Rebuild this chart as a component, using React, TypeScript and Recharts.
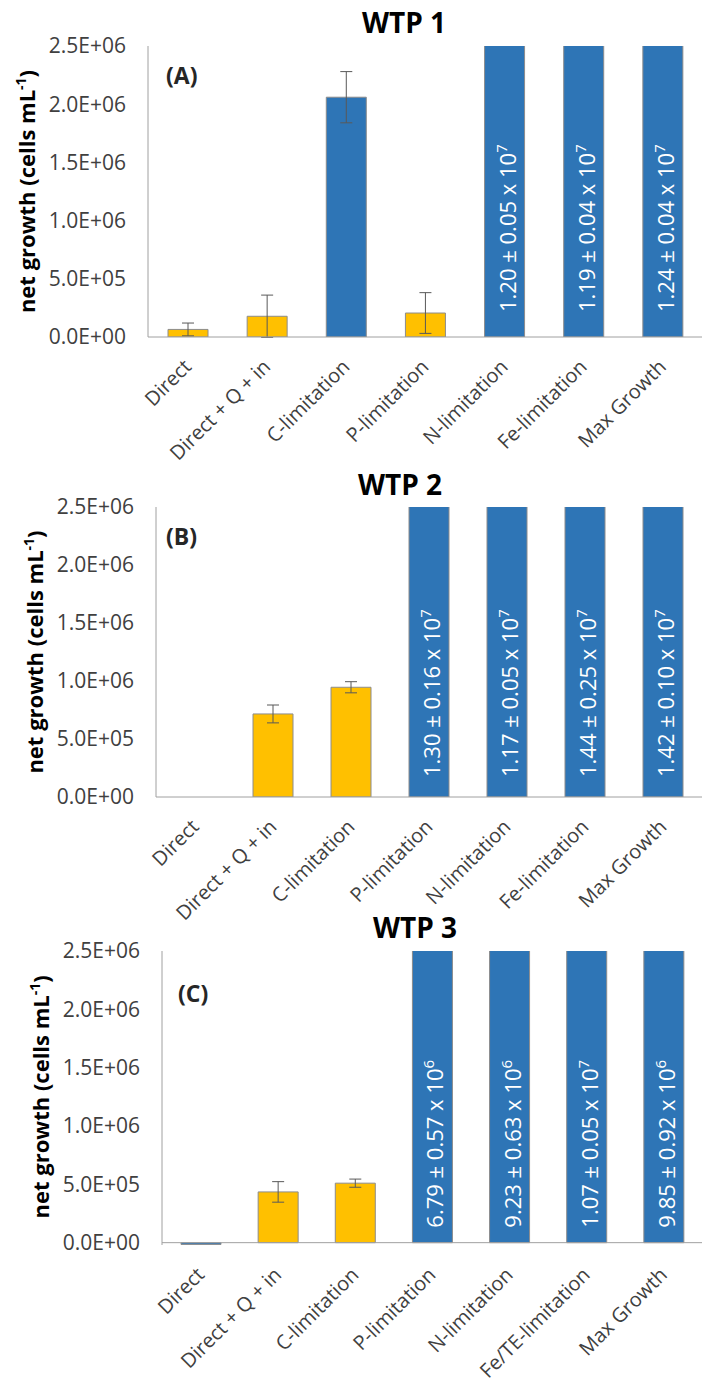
import React from "react";
import {
  BarChart,
  Bar,
  XAxis,
  YAxis,
  Cell,
  ErrorBar,
  LabelList,
  ReferenceLine,
} from "recharts";

// categories
const CATEGORIES_12 = [
  "Direct",
  "Direct + Q + in",
  "C-limitation",
  "P-limitation",
  "N-limitation",
  "Fe-limitation",
  "Max Growth",
];
const CATEGORIES_3 = [
  "Direct",
  "Direct + Q + in",
  "C-limitation",
  "P-limitation",
  "N-limitation",
  "Fe/TE-limitation",
  "Max Growth",
];

// net growth (cells/mL) and standard deviation per category
const WTP1_GROWTH = [65000, 178000, 2060000, 206000, 1.2e7, 1.19e7, 1.24e7];
const WTP1_SD = [55000, 182000, 220000, 175000, 0.05e7, 0.04e7, 0.04e7];

const WTP2_GROWTH = [0, 716000, 946000, 1.3e7, 1.17e7, 1.44e7, 1.42e7];
const WTP2_SD = [0, 77000, 48000, 0.16e7, 0.05e7, 0.25e7, 0.1e7];

const WTP3_GROWTH = [-15000, 435000, 510000, 6.79e6, 9.23e6, 1.07e7, 9.85e6];
const WTP3_SD = [0, 88000, 35000, 0.57e6, 0.63e6, 0.05e7, 0.92e6];

const Y_TICKS = [0, 500000, 1000000, 1500000, 2000000, 2500000];
const Y_MAX = 2500000;

const BLUE = "#2E75B6";
const GOLD = "#FFC000";
const WTP1_COLORS = [GOLD, GOLD, BLUE, GOLD, BLUE, BLUE, BLUE];
const WTP2_COLORS = [GOLD, GOLD, GOLD, BLUE, BLUE, BLUE, BLUE];
const WTP3_COLORS = [BLUE, GOLD, GOLD, BLUE, BLUE, BLUE, BLUE];

const FONT = "'Open Sans', 'Noto Sans', sans-serif";
const FRAME = "#a0a0a0";
const TEXT = "#404040";

function fmtTick(v: number) {
  const [m, e] = v.toExponential(1).split("e");
  const sign = e[0] === "-" ? "-" : "+";
  const digits = e.replace(/[+-]/, "").padStart(2, "0");
  return `${m}E${sign}${digits}`;
}

// "1.20|0.05|7" style note for bars that run off the top of the axis
function offChartNote(v: number, sd: number) {
  if (v <= Y_MAX) return "";
  const exp = Math.floor(Math.log10(v));
  const f = Math.pow(10, exp);
  return `${(v / f).toFixed(2)}|${(sd / f).toFixed(2)}|${exp}`;
}

function CatTick({ x, y, payload }: any) {
  return (
    <g transform={`translate(${Number(x) + 5},${Number(y) + 31})`}>
      <text
        x={0}
        y={0}
        transform="rotate(-45)"
        textAnchor="end"
        fontSize={20}
        fill={TEXT}
      >
        {payload.value}
      </text>
    </g>
  );
}

interface PanelProps {
  title: string;
  letter: string;
  categories: string[];
  growth: number[];
  sd: number[];
  colors: string[];
  offsetY: number;
  height: number;
  top: number;
  axisWidth: number;
  xAxisHeight: number;
  yMin: number;
  titleX: number;
  titleY: number;
  letterX: number;
  letterY: number;
  noteLift: number;
}

function Panel(p: PanelProps) {
  const data = p.categories.map((name, i) => ({
    name,
    value: p.growth[i],
    err: p.sd[i],
    note: offChartNote(p.growth[i], p.sd[i]),
  }));
  const plotH = p.height - p.top - p.xAxisHeight;
  const zeroY = p.top + (plotH * Y_MAX) / (Y_MAX - p.yMin);
  const labelX = p.axisWidth - 113;
  const labelY = p.top + (zeroY - p.top) / 2;

  const renderNote = (props: any) => {
    const note = props.value;
    if (!note) return null;
    const vb = props.viewBox || props;
    const [m, s, exp] = String(note).split("|");
    const cx = vb.x + vb.width / 2;
    const base = Math.max(vb.y, vb.y + vb.height);
    const ty = base - p.noteLift;
    return (
      <g transform={`translate(${cx},${ty})`}>
        <text
          x={0}
          y={0}
          dy="0.5em"
          transform="rotate(-90)"
          fill="#ffffff"
          fontSize={22}
          textAnchor="start"
        >
          {`${m} ± ${s} x 10`}
          <tspan dy={-9} fontSize={15}>
            {exp}
          </tspan>
        </text>
      </g>
    );
  };

  return (
    <div style={{ position: "absolute", left: 0, top: p.offsetY }}>
      <BarChart
        width={710}
        height={p.height}
        data={data}
        margin={{ top: p.top, right: 8, left: 0, bottom: 0 }}
      >
        <XAxis
          dataKey="name"
          interval={0}
          tick={<CatTick />}
          tickLine={false}
          tickSize={0}
          tickMargin={0}
          height={p.xAxisHeight}
          axisLine={p.yMin < 0 ? false : { stroke: FRAME }}
        />
        <XAxis
          xAxisId="top"
          orientation="top"
          height={0}
          tick={false}
          tickLine={false}
          axisLine={{ stroke: FRAME }}
        />
        <YAxis
          domain={[p.yMin, Y_MAX]}
          ticks={Y_TICKS}
          allowDataOverflow
          tickFormatter={fmtTick}
          width={p.axisWidth}
          tickLine={false}
          tickSize={0}
          tickMargin={22}
          axisLine={{ stroke: FRAME }}
          tick={{ fontSize: 21, fill: TEXT }}
        />
        <YAxis
          yAxisId="right"
          orientation="right"
          width={0}
          tick={false}
          tickLine={false}
          axisLine={{ stroke: FRAME }}
        />
        <Bar
          dataKey="value"
          barSize={40}
          stroke="#8c8c8c"
          strokeWidth={1}
          isAnimationActive={false}
        >
          {data.map((d, i) => (
            <Cell key={d.name} fill={p.colors[i]} />
          ))}
          <ErrorBar
            dataKey="err"
            width={6}
            stroke="#595959"
            strokeWidth={1}
            direction="y"
          />
          <LabelList dataKey="note" content={renderNote} />
        </Bar>
        {p.yMin < 0 && <ReferenceLine y={0} stroke={FRAME} />}
        <text
          x={p.titleX}
          y={p.titleY}
          textAnchor="middle"
          fontSize={28}
          fontWeight="bold"
          fill="#000"
        >
          {p.title}
        </text>
        <text
          x={p.letterX}
          y={p.letterY}
          fontSize={23}
          fontWeight="bold"
          fill="#262626"
        >
          {p.letter}
        </text>
        <g transform={`translate(${labelX},${labelY})`}>
          <text
            x={0}
            y={0}
            transform="rotate(-90)"
            textAnchor="middle"
            fontSize={22}
            fontWeight="bold"
            fill="#000"
          >
            net growth (cells mL
            <tspan dy={-9} fontSize={14}>
              -1
            </tspan>
            <tspan dy={9}>)</tspan>
          </text>
        </g>
      </BarChart>
    </div>
  );
}

export default function App() {
  return (
    <div
      style={{
        position: "absolute",
        left: 0,
        top: 0,
        width: 710,
        height: 1387,
        background: "#fff",
        fontFamily: FONT,
        overflow: "hidden",
      }}
    >
      <Panel
        title="WTP 1"
        letter="(A)"
        categories={CATEGORIES_12}
        growth={WTP1_GROWTH}
        sd={WTP1_SD}
        colors={WTP1_COLORS}
        offsetY={0}
        height={500}
        top={46}
        axisWidth={148}
        xAxisHeight={163}
        yMin={0}
        titleX={404}
        titleY={33}
        letterX={166}
        letterY={84}
        noteLift={25}
      />
      <Panel
        title="WTP 2"
        letter="(B)"
        categories={CATEGORIES_12}
        growth={WTP2_GROWTH}
        sd={WTP2_SD}
        colors={WTP2_COLORS}
        offsetY={455}
        height={500}
        top={52}
        axisWidth={156}
        xAxisHeight={158}
        yMin={0}
        titleX={400}
        titleY={40}
        letterX={166}
        letterY={90}
        noteLift={20}
      />
      <Panel
        title="WTP 3"
        letter="(C)"
        categories={CATEGORIES_3}
        growth={WTP3_GROWTH}
        sd={WTP3_SD}
        colors={WTP3_COLORS}
        offsetY={900}
        height={487}
        top={51}
        axisWidth={162}
        xAxisHeight={142}
        yMin={-20000}
        titleX={415}
        titleY={38}
        letterX={178}
        letterY={102}
        noteLift={15}
      />
    </div>
  );
}
